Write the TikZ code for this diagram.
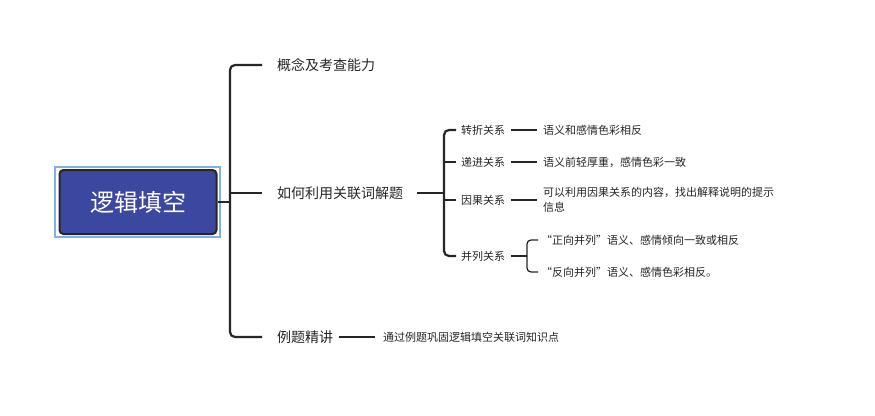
\documentclass[tikz,border=0pt]{standalone}
\usepackage{fontspec}
\setmainfont{Noto Sans CJK SC}
\begin{document}
\begin{tikzpicture}[x=1pt,y=-1pt,
 ln/.style={line width=2.2pt,rounded corners=5pt,black!85},
 thin/.style={line width=1.3pt,black!85},
 l1/.style={anchor=west,inner sep=0pt,font=\fontsize{14}{16}\selectfont,text=black!85},
 l2/.style={anchor=west,inner sep=0pt,font=\fontsize{11}{15}\selectfont,text=black!85,align=left}]
\useasboundingbox (0,0) rectangle (875,415);
\fill[white] (0,0) rectangle (875,415);
\draw[cyan!60!blue!50,line width=1.2pt,fill=white] (55,167) rectangle (220,237);
\node[draw=black!85,line width=2pt,fill=blue!45!black!60!blue,fill={rgb,255:red,60;green,72;blue,160},rounded corners=4pt,minimum width=157pt,minimum height=64pt,text=white,font=\fontsize{24}{28}\selectfont] (root) at (138,202) {逻辑填空};
\node[l1] (a) at (277,65) {概念及考查能力};
\node[l1] (b) at (277,193) {如何利用关联词解题};
\node[l1] (c) at (277,337) {例题精讲};
\coordinate (t) at (230,202);
\draw[ln] (root.east) -- (t);
\draw[ln] (t) |- ([xshift=-15pt]a.west);
\draw[ln] (t) |- ([xshift=-15pt]c.west);
\draw[ln] (230,193) -- ([xshift=-15pt]b.west);
\node[l2] (c1) at (383,337) {通过例题巩固逻辑填空关联词知识点};
\draw[thin] ([xshift=6pt]c.east) -- ([xshift=-8pt]c1.west);
\node[l2] (k1) at (461,130) {转折关系};
\node[l2] (k2) at (461,162) {递进关系};
\node[l2] (k3) at (461,200) {因果关系};
\node[l2] (k4) at (461,256) {并列关系};
\coordinate (s) at (444,193);
\draw[ln] ([xshift=14pt]b.east) -- (s);
\draw[ln] (s) |- ([xshift=-5pt]k1.west);
\draw[ln] (s) |- ([xshift=-5pt]k4.west);
\draw[ln] (444,162) -- ([xshift=-5pt]k2.west);
\draw[ln] (444,200) -- ([xshift=-5pt]k3.west);
\node[l2] (v1) at (543,130) {语义和感情色彩相反};
\node[l2] (v2) at (543,162) {语义前轻厚重，感情色彩一致};
\node[l2] (v3) at (543,200) {可以利用因果关系的内容，找出解释说明的提示\\信息};
\draw[thin] ([xshift=6pt]k1.east) -- ([xshift=-6pt]v1.west);
\draw[thin] ([xshift=6pt]k2.east) -- ([xshift=-6pt]v2.west);
\draw[thin] ([xshift=6pt]k3.east) -- ([xshift=-6pt]v3.west);
\node[l2] (w1) at (541,240) {“正向并列”语义、感情倾向一致或相反};
\node[l2] (w2) at (541,272) {“反向并列”语义、感情色彩相反。};
\coordinate (u) at (527,256);
\draw[thin] ([xshift=6pt]k4.east) -- (u);
\draw[thin,rounded corners=4pt] (u) |- ([xshift=-3pt]w1.west);
\draw[thin,rounded corners=4pt] (u) |- ([xshift=-3pt]w2.west);
\end{tikzpicture}
\end{document}
